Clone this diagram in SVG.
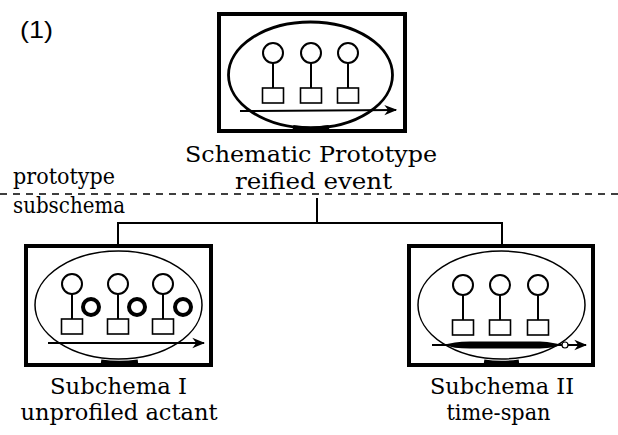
<svg xmlns="http://www.w3.org/2000/svg" width="618" height="435" viewBox="0 0 618 435">
  <style>
    .frame { fill: #fff; stroke: #000; stroke-width: 4; }
    .oval { fill: none; stroke: #000; stroke-width: 1.5; }
    .oval-bold { fill: none; stroke: #000; stroke-width: 2.8; }
    .actor { fill: #fff; stroke: #000; stroke-width: 2; }
    .actor-bold { fill: #fff; stroke: #000; stroke-width: 4; }
    .stem { stroke: #000; stroke-width: 2; }
    .slot { fill: #fff; stroke: #000; stroke-width: 1.6; }
    .time { stroke: #000; stroke-width: 2; fill: none; }
    .wire { stroke: #000; stroke-width: 2; fill: none; }
    .lbl { font-family: "DejaVu Serif", "Liberation Serif", serif; font-size: 23px; fill: #000; }
  </style>
  <defs>
    <marker id="head" viewBox="0 0 10 10" refX="9" refY="5" markerWidth="6.5" markerHeight="6.5" orient="auto" markerUnits="strokeWidth">
      <path d="M0,1 L10,5 L0,9 L3,5 Z" fill="#000"/>
    </marker>
    <!-- one participant: head, stem and slot -->
    <g id="actor">
      <circle class="actor" cx="0" cy="0" r="10"/>
      <line class="stem" x1="0" y1="10" x2="0" y2="35"/>
      <rect class="slot" x="-10.5" y="35" width="21" height="15"/>
    </g>
  </defs>

  <text x="20" y="38" font-family="Liberation Sans, sans-serif" font-size="24" textLength="33" lengthAdjust="spacingAndGlyphs">(1)</text>

  <!-- prototype / subschema divider -->
  <line x1="0" y1="194" x2="618" y2="194" stroke="#000" stroke-width="1.5" stroke-dasharray="7 6"/>
  <text class="lbl" x="13" y="184" textLength="102" lengthAdjust="spacingAndGlyphs">prototype</text>
  <text class="lbl" x="13" y="213" textLength="112" lengthAdjust="spacingAndGlyphs">subschema</text>

  <!-- schematic prototype -->
  <g id="prototype">
    <rect class="frame" x="219" y="14" width="186" height="117"/>
    <ellipse class="oval-bold" cx="310.5" cy="75" rx="82" ry="53"/>
    <path d="M293,127.5 Q311,130.5 329,127.5" stroke="#000" stroke-width="5" fill="none"/>
    <use href="#actor" x="273" y="53"/>
    <use href="#actor" x="311" y="53"/>
    <use href="#actor" x="348" y="53"/>
    <line class="time" x1="240" y1="111" x2="396" y2="110" marker-end="url(#head)"/>
    <text class="lbl" x="311" y="162" text-anchor="middle" textLength="252" lengthAdjust="spacingAndGlyphs">Schematic Prototype</text>
    <text class="lbl" x="313.5" y="189" text-anchor="middle" textLength="157" lengthAdjust="spacingAndGlyphs">reified event</text>
  </g>

  <!-- subschema I: unprofiled actant -->
  <g id="subschema-1">
    <rect class="frame" x="26" y="246" width="185" height="119"/>
    <ellipse class="oval" cx="118.5" cy="305" rx="83.5" ry="54"/>
    <path d="M101,362 Q119,364.5 138,362" stroke="#000" stroke-width="5" fill="none"/>
    <use href="#actor" x="72" y="284"/>
    <use href="#actor" x="118" y="284"/>
    <use href="#actor" x="163" y="284"/>
    <circle class="actor-bold" cx="91" cy="307" r="8"/>
    <circle class="actor-bold" cx="137" cy="307" r="8"/>
    <circle class="actor-bold" cx="183" cy="307" r="8"/>
    <line class="time" x1="48" y1="343" x2="204" y2="343" marker-end="url(#head)"/>
    <text class="lbl" x="118.5" y="394" text-anchor="middle" textLength="137" lengthAdjust="spacingAndGlyphs">Subchema I</text>
    <text class="lbl" x="119" y="420" text-anchor="middle" textLength="197" lengthAdjust="spacingAndGlyphs">unprofiled actant</text>
  </g>

  <!-- subschema II: time-span -->
  <g id="subschema-2">
    <rect class="frame" x="409" y="246" width="184" height="119"/>
    <ellipse class="oval" cx="501.5" cy="305" rx="83.5" ry="54"/>
    <path d="M484,362 Q501,364.5 519,362" stroke="#000" stroke-width="5" fill="none"/>
    <use href="#actor" x="463" y="285"/>
    <use href="#actor" x="500" y="285"/>
    <use href="#actor" x="538" y="285"/>
    <line class="time" x1="432" y1="345" x2="586" y2="345" marker-end="url(#head)"/>
    <path d="M446,345 Q452,341.5 470,341.5 L540,341.5 Q556,342.5 560,345 Q556,347.5 540,348.5 L470,348.5 Q452,348.5 446,345 Z" fill="#000"/>
    <circle cx="565" cy="345" r="3" fill="#fff" stroke="#000" stroke-width="1.2"/>
    <text class="lbl" x="502" y="394" text-anchor="middle" textLength="144" lengthAdjust="spacingAndGlyphs">Subchema II</text>
    <text class="lbl" x="498.5" y="420" text-anchor="middle" textLength="104" lengthAdjust="spacingAndGlyphs">time-span</text>
  </g>

  <!-- connectors -->
  <g id="connectors">
    <line class="wire" x1="317" y1="198" x2="317" y2="223"/>
    <line class="wire" x1="118" y1="223" x2="502" y2="223"/>
    <line class="wire" x1="118" y1="222" x2="118" y2="244"/>
    <line class="wire" x1="502" y1="222" x2="502" y2="244"/>
  </g>
</svg>
